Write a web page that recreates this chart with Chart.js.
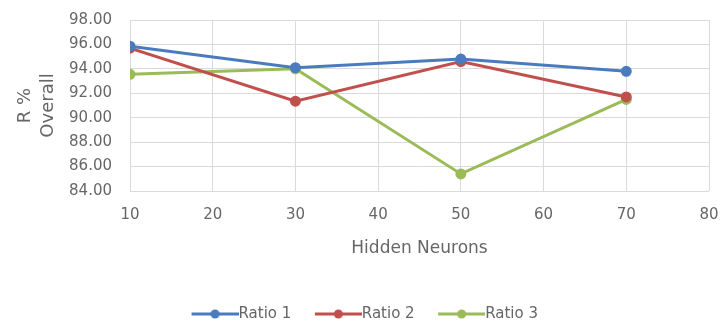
<!DOCTYPE html>
<html>
<head>
<meta charset="utf-8">
<script src="https://cdn.jsdelivr.net/npm/chart.js@4/dist/chart.umd.min.js"></script>
<style>
  html, body { margin: 0; padding: 0; background: #fff; }
  #wrap { width: 723px; height: 325px; }
</style>
</head>
<body>
<div id="wrap"><canvas id="c" width="723" height="325"></canvas></div>
<script>
const hiddenNeurons = [10, 30, 50, 70];
const ratio1 = [95.85, 94.1, 94.8, 93.8];
const ratio2 = [95.7, 91.35, 94.6, 91.7];
const ratio3 = [93.55, 94.0, 85.4, 91.5];
const seriesNames = ['Ratio 1', 'Ratio 2', 'Ratio 3'];
const seriesColors = ['#4a7bbf', '#c0504d', '#9bbb59'];
const yTickDecimals = 2;

const FONT = '"DejaVu Sans", sans-serif';
const TEXT = '#666666';

// legend swatch: short line with a round marker in the middle,
// drawn so that the line runs right up to the label text
function swatch(color) {
  const cv = document.createElement('canvas');
  cv.width = 55; cv.height = 12;
  const g = cv.getContext('2d');
  g.strokeStyle = color; g.lineWidth = 3;
  g.beginPath(); g.moveTo(8, 6); g.lineTo(55, 6); g.stroke();
  g.fillStyle = color;
  g.beginPath(); g.arc(31.5, 6, 4.5, 0, Math.PI * 2); g.fill();
  return cv;
}

const seriesValues = [ratio1, ratio2, ratio3];
const datasets = seriesValues.map((vals, i) => ({
  label: seriesNames[i],
  data: hiddenNeurons.map((x, j) => ({ x: x, y: vals[j] })),
  borderColor: seriesColors[i],
  backgroundColor: seriesColors[i],
  borderWidth: 3,
  pointRadius: 4,
  pointHoverRadius: 4,
  pointStyle: 'circle',
  tension: 0
}));
const legendSwatches = seriesColors.map(swatch);

// nudge the legend row a little to the right of centre
const legendShift = {
  id: 'legendShift',
  afterLayout(chart) {
    if (chart.legend) { chart.legend.left += 10; chart.legend.right += 10; }
  }
};

new Chart(document.getElementById('c'), {
  type: 'line',
  data: { datasets },
  plugins: [legendShift],
  options: {
    responsive: false,
    animation: false,
    layout: { padding: { left: 0, right: 14, top: 20, bottom: -6.5 } },
    plugins: {
      tooltip: { enabled: false },
      legend: {
        position: 'bottom',
        labels: {
          usePointStyle: true,
          pointStyleWidth: 40,
          color: TEXT,
          font: { family: FONT, size: 15 },
          padding: 23,
          generateLabels(chart) {
            return chart.data.datasets.map((d, i) => ({
              text: d.label,
              pointStyle: legendSwatches[i],
              fillStyle: d.borderColor,
              strokeStyle: d.borderColor,
              fontColor: TEXT,
              lineWidth: 0,
              hidden: false,
              datasetIndex: i
            }));
          }
        }
      }
    },
    scales: {
      x: {
        type: 'linear',
        min: 10, max: 80,
        afterFit(scale) { scale.height = 92.5; scale.paddingLeft = 0; scale.paddingRight = 0; },
        ticks: { stepSize: 10, color: TEXT, font: { family: FONT, size: 15 }, padding: 15 },
        grid: { color: '#dadada', drawTicks: false },
        border: { display: false },
        title: { display: true, text: 'Hidden Neurons', color: TEXT, font: { family: FONT, size: 17 }, padding: { top: 10, bottom: 25 } }
      },
      y: {
        min: 84, max: 98,
        afterFit(scale) { scale.width = 130; scale.paddingTop = 0; scale.paddingBottom = 0; },
        ticks: { stepSize: 2, color: TEXT, font: { family: FONT, size: 15 }, padding: 18,
          callback: v => Number(v).toFixed(yTickDecimals) },
        grid: { color: '#dadada', drawTicks: false },
        border: { display: false },
        title: { display: true, text: ['R %', 'Overall'], color: TEXT, font: { family: FONT, size: 18, lineHeight: 1.28 }, padding: { top: 13.5, bottom: 0 } }
      }
    }
  }
});
</script>
</body>
</html>
